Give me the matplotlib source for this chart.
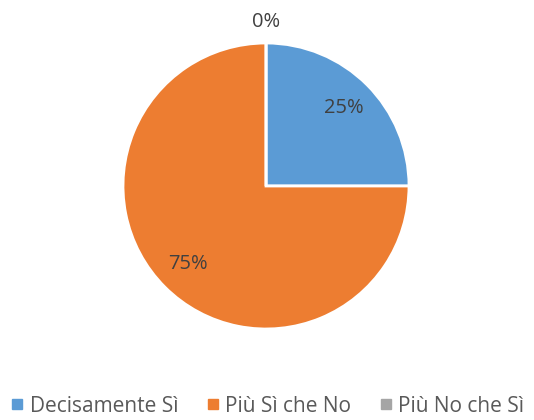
import numpy as np
import matplotlib.pyplot as plt
from matplotlib.lines import Line2D

# --- DATA ---
labels = ['Decisamente Sì', 'Più Sì che No', 'Più No che Sì']
values = [25, 75, 0]
colors = ['#5B9BD5', '#ED7D31', '#A5A5A5']

plt.rcParams['font.family'] = ['Open Sans', 'DejaVu Sans']

fig = plt.figure(figsize=(5.34, 4.2), dpi=100)
# pie centre ~ (266, 186) px, radius ~143 px
ax = fig.add_axes([123 / 534, 91 / 420, 286 / 534, 286 / 420])

wedges, _ = ax.pie(values, colors=colors, startangle=90, counterclock=False,
                   radius=1.0, wedgeprops=dict(edgecolor='white', linewidth=2))
ax.set_xlim(-1, 1)
ax.set_ylim(-1, 1)
ax.set_aspect('equal')

# percentage labels
total = sum(values)
for w, v in zip(wedges, values):
    mid = np.deg2rad((w.theta1 + w.theta2) / 2)
    d = 1.15 if v == 0 else 0.77
    ax.text(d * np.cos(mid), d * np.sin(mid), f'{v / total * 100:.0f}%',
            ha='center', va='center', fontsize=14.5, color='#404040', clip_on=False)

# --- LEGEND ---
handles = [Line2D([], [], marker='s', linestyle='', markersize=6.5,
                  markerfacecolor=c, markeredgecolor=c) for c in colors]
fig.legend(handles, labels, loc='center', bbox_to_anchor=(0.5, 1 - 406 / 420),
           ncol=3, frameon=False, fontsize=15, labelcolor='#595959',
           handletextpad=0.25, columnspacing=1.3, handlelength=0.7)

fig.savefig('out.png', dpi=100)
